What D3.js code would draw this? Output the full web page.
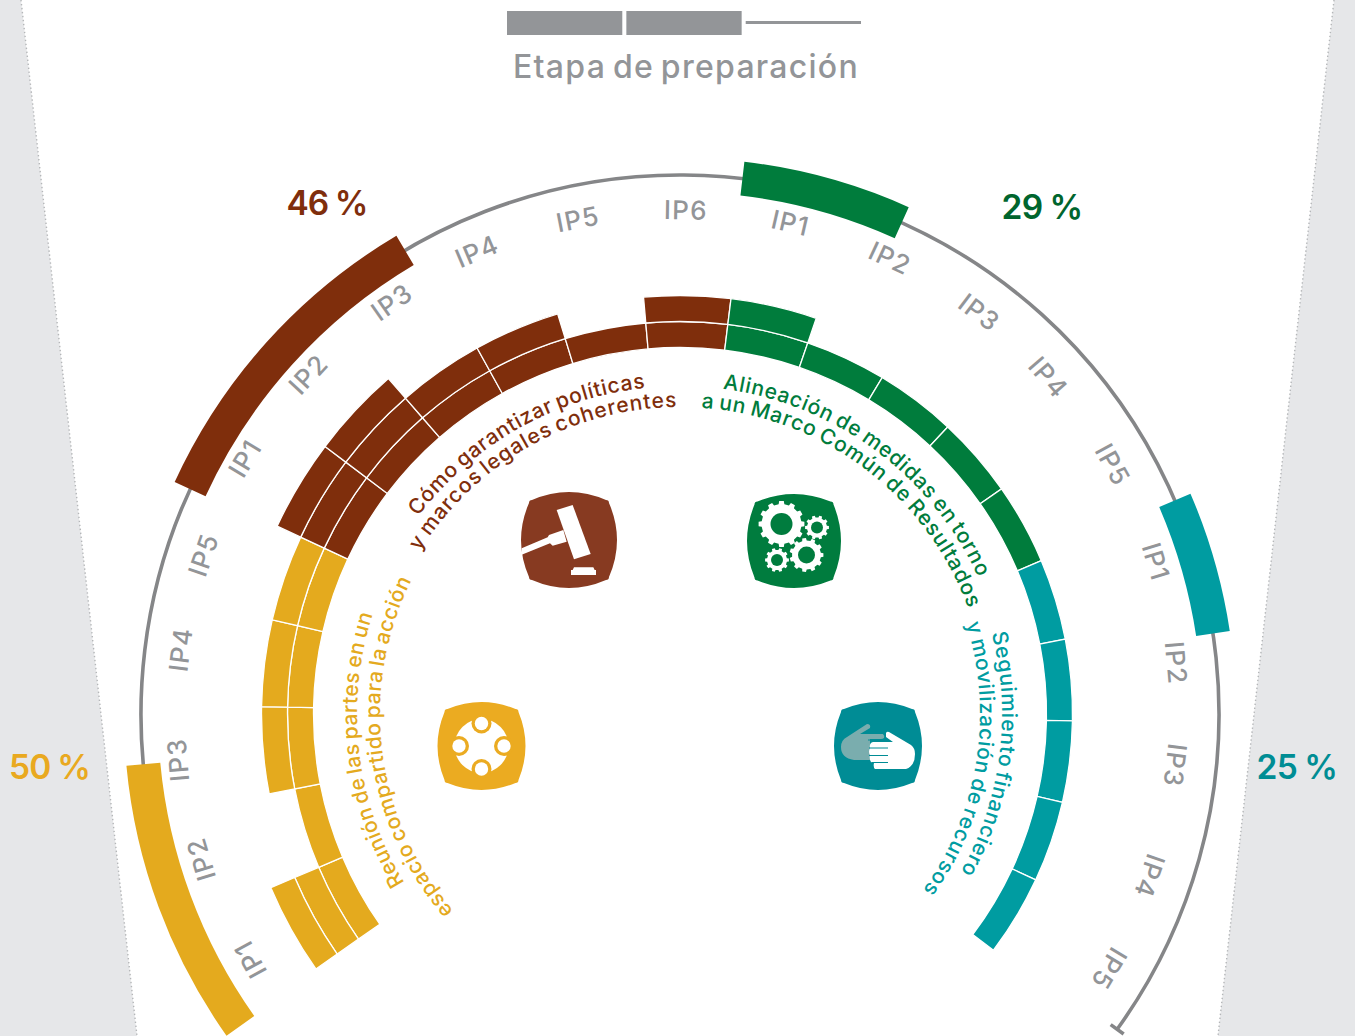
<!DOCTYPE html>
<html lang="es">
<head>
<meta charset="utf-8">
<script src="https://cdn.jsdelivr.net/npm/d3@7"></script>
<style>
html,body{margin:0;padding:0;background:#fff;overflow:hidden}
svg{display:block}
text{font-family:Inter,"Noto Sans",sans-serif}
</style>
</head>
<body>
<svg id="chart" width="1355" height="1036"></svg>
<script>
// ---- data ----
const objectives = ["espacio","coherencia","alineacion","seguimiento"];
const objectiveColors = ["#e4aa1e","#7f2e0c","#007c3c","#009ca1"];
const iconColors = ["#ebab21","#873a21","#007c3e","#008c95"];
const pctColors = ["#e9a920","#7f2e0c","#00652e","#008d94"];
const pctLabels = ["50 %","46 %","29 %","25 %"];
// number of preparation-stage levels reached in each IP (cells stacked outward)
const levelsEspacio = [3,1,2,2,2];
const levelsCoherencia = [3,3,2,2,1,2];
const levelsAlineacion = [2,1,1,1,1];
const levelsSeguimiento = [1,1,1,1,1];
const levelsByObjective = [levelsEspacio,levelsCoherencia,levelsAlineacion,levelsSeguimiento];
// length of outer progress band, in IP units
const progressUnits = [2.5,2.89,1.47,1.23];
const captionTexts = [
  ["Reunión de las partes en un","espacio compartido para la acción"],
  ["Cómo garantizar políticas","y marcos legales coherentes"],
  ["Alineación de medidas en torno","a un Marco Común de Resultados"],
  ["Seguimiento financiero","y movilización de recursos"]
];
const headerLabel = "Etapa de preparación";
const stageSegments = ["bar","bar","line"];

// ---- layout ----
const W=1355,H=1036,cx=680,cy=714;
const totalUnits=d3.sum(levelsByObjective,d=>d.length);
const deg=d3.scaleLinear().domain([0,totalUnits]).range([-125,127]);
const rad=u=>deg(u)*Math.PI/180;
const ring=d3.scaleLinear().domain([0,3]).range([366.5,444.5]);
const bandInner=522,bandOuter=556,lineR=539,labelR=504,bandShift=-0.35*Math.PI/180,lineEndShift=-1.2*Math.PI/180;
const grey="#939598",lineGrey="#858688";
const captionLayout=[
  [{r:323,a0:-121.5,a1:-72},{r:300,a0:-131,a1:-63.5}],
  [{r:328,a0:-53,a1:-6},{r:307,a0:-58,a1:-0.5}],
  [{r:328,a0:7.5,a1:65.5},{r:307,a0:4,a1:70}],
  [{r:322,a0:75.5,a1:119.5},{r:300,a0:72.5,a1:126}]
];
const labelNudges=[
  [[11,1],[3,-2],[0,2],[1,-3],[0,5]],
  [[-3,4],[-3,4],[1,1],[-6,1],[-6,0],[-3,0]],
  [[-3,0],[-3,1],[-4,1],[-12,-6],[-8,-5]],
  [[-6,-5],[-6,-7],[-5,-10],[-7,-2],[-3,-5]]
];
const pctLayout=[[49.5,779],[327,215],[1042,219],[1297,779]];
const iconLayout=[[481.5,746,44,37],[569,540,48,40],[794,541,47,39.5],[878,746,44,37]];

function fit(node,target,n){
  const l=node.getComputedTextLength();
  node.setAttribute("letter-spacing",((target-l)/n).toFixed(3));
}

const svg=d3.select("#chart");
// side panels
const panels=[[[0,0],[21,0],[137,1036],[0,1036]],[[1355,0],[1334,0],[1218,1036],[1355,1036]]];
svg.selectAll("polygon.panel").data(panels).join("polygon").attr("class","panel")
  .attr("points",d=>d.join(" ")).attr("fill","#e6e7e9");
svg.selectAll("line.edge").data(panels).join("line").attr("class","edge")
  .attr("x1",d=>d[1][0]).attr("y1",d=>d[1][1]).attr("x2",d=>d[2][0]).attr("y2",d=>d[2][1])
  .attr("stroke","#b4b6b8").attr("stroke-width",1.4).attr("stroke-dasharray","1.4 2.6");

// header key
const keyX=d3.scaleBand().domain(d3.range(stageSegments.length)).range([507,861]).paddingInner(0.034).paddingOuter(0);
const key=svg.append("g");
stageSegments.forEach((s,i)=>{
  if(s==="bar") key.append("rect").attr("x",keyX(i)).attr("y",11).attr("width",keyX.bandwidth()).attr("height",24).attr("fill",grey);
  else key.append("line").attr("x1",keyX(i)).attr("x2",keyX(i)+keyX.bandwidth()).attr("y1",22.5).attr("y2",22.5).attr("stroke",grey).attr("stroke-width",3);
});
const headerText=svg.append("text").attr("x",686).attr("y",78).attr("text-anchor","middle")
  .attr("fill",grey).attr("font-size",32).attr("font-weight",500).attr("word-spacing",-3).text(headerLabel);
fit(headerText.node(),346,headerLabel.length);

const g=svg.append("g").attr("transform",`translate(${cx},${cy})`);
// outer grey arc and end tick
const endA=rad(totalUnits)+lineEndShift;
const arcPath=d3.path();
arcPath.arc(0,0,lineR,rad(0)-Math.PI/2,endA-Math.PI/2,false);
g.append("path").attr("d",arcPath.toString()).attr("fill","none").attr("stroke",lineGrey).attr("stroke-width",3.6);
g.append("line")
  .attr("x1",Math.sin(endA)*(lineR-8)).attr("y1",-Math.cos(endA)*(lineR-8))
  .attr("x2",Math.sin(endA)*(lineR+8)).attr("y2",-Math.cos(endA)*(lineR+8))
  .attr("stroke",lineGrey).attr("stroke-width",3.6);

const arc=d3.arc();
let offset=0;
objectives.forEach((obj,oi)=>{
  const levels=levelsByObjective[oi];
  // outer progress band
  g.append("path").attr("d",arc({innerRadius:bandInner,outerRadius:bandOuter,startAngle:rad(offset)+bandShift,endAngle:rad(offset+progressUnits[oi])+bandShift}))
    .attr("fill",objectiveColors[oi]);
  levels.forEach((lv,ip)=>{
    const u=offset+ip;
    // IP tick label
    const mid=deg(u+0.5), mr=mid*Math.PI/180, nd=labelNudges[oi][ip];
    g.append("text").attr("transform",`translate(${Math.sin(mr)*labelR+nd[0]},${-Math.cos(mr)*labelR+nd[1]}) rotate(${mid})`)
      .attr("text-anchor","middle").attr("dy","0.36em").attr("font-size",26).attr("font-weight",500).attr("letter-spacing",1.2)
      .attr("fill",grey).text("IP"+(ip+1));
    // stacked cells
    d3.range(lv).forEach(k=>{
      g.append("path").attr("d",arc({innerRadius:ring(k),outerRadius:ring(k+1),startAngle:rad(u),endAngle:rad(u+1)}))
        .attr("fill",objectiveColors[oi]).attr("stroke","#fff").attr("stroke-width",1.3);
    });
  });
  // captions on curves
  captionTexts[oi].forEach((t,li)=>{
    const L=captionLayout[oi][li];
    const id=`cap${oi}${li}`;
    const p=d3.path();
    p.arc(0,0,L.r,(L.a0-90)*Math.PI/180,(L.a1+25-90)*Math.PI/180,false);
    g.append("path").attr("id",id).attr("d",p.toString()).attr("fill","none");
    const tx=g.append("text").attr("font-size",21).attr("font-weight",500).attr("word-spacing",-2).attr("fill",objectiveColors[oi]);
    tx.append("textPath").attr("href","#"+id).text(t);
    fit(tx.node(),L.r*(L.a1-L.a0)*Math.PI/180,t.length);
  });
  // percentage
  const pct=svg.append("text").attr("x",pctLayout[oi][0]).attr("y",pctLayout[oi][1]).attr("text-anchor","middle")
    .attr("font-size",33.5).attr("font-weight",600).attr("word-spacing",-1).attr("fill",pctColors[oi]).text(pctLabels[oi]);
  fit(pct.node(),81,pctLabels[oi].length);
  offset+=levels.length;
});

// ---- icons ----
function badge(i){
  const [x,y,h,c]=iconLayout[i];
  const b=2*h-c, r=3;
  const d=`M${-c+r},${-c} Q0,${-b} ${c-r},${-c} Q${c},${-c} ${c},${-c+r} Q${b},0 ${c},${c-r} Q${c},${c} ${c-r},${c} Q0,${b} ${-c+r},${c} Q${-c},${c} ${-c},${c-r} Q${-b},0 ${-c},${-c+r} Q${-c},${-c} ${-c+r},${-c}Z`;
  const n=svg.append("g").attr("transform",`translate(${x},${y})`);
  n.append("path").attr("d",d).attr("fill",iconColors[i]);
  return n;
}
// espacio icon
(function(){
  const n=badge(0);
  n.append("circle").attr("r",27).attr("fill","#fff");
  [[0,-22.5],[22.5,0],[0,23],[-22.5,0]].forEach(([a,b])=>{
    n.append("circle").attr("cx",a).attr("cy",b).attr("r",10).attr("fill",iconColors[0]);
    n.append("circle").attr("cx",a).attr("cy",b).attr("r",6.7).attr("fill","#fff");
  });
})();
// gavel icon
(function(){
  const n=badge(1);
  const m=n.append("g").attr("transform","scale(0.3333) translate(-207,-180)");
  const polys=[
    [[170,90],[218,75],[272,222],[222,238]],
    [[65,205],[143,172],[147,165],[190,150],[200,185],[158,197],[150,190],[65,224]],
    [[222,262],[280,262],[284,270],[288,270],[288,285],[213,285],[213,270],[218,270]]
  ];
  m.selectAll("polygon").data(polys).join("polygon").attr("points",d=>d.join(" ")).attr("fill","#fff");
})();
// gears icon
(function(){
  const n=badge(2);
  function gear(x,y,ro,ri,hole,t){
    const pts=[];
    for(let i=0;i<t;i++){
      const a=i/t*2*Math.PI, w=Math.PI/t*0.55;
      [[a-w,ri],[a-w*0.7,ro],[a+w*0.7,ro],[a+w,ri]].forEach(([q,r])=>pts.push([x+Math.cos(q)*r,y+Math.sin(q)*r]));
    }
    n.append("polygon").attr("points",pts.join(" ")).attr("fill","#fff");
    n.append("circle").attr("cx",x).attr("cy",y).attr("r",hole).attr("fill",iconColors[2]);
  }
  gear(-12.5,-17,23,20,11,12);
  gear(23,-13.5,12,10,6,10);
  gear(12.5,14,17,14.5,8.5,11);
  gear(-17,19,12,10,6,10);
})();
// hands icon
(function(){
  const n=badge(3);
  n.append("path").attr("d","M-31,-9 L-11,-22 Q-7,-22 -8,-18 L-18,-12 L5,-12 Q7,-10 6,-8 Q5,-7 3,-7 L-8,-7 L-8,14 L-24,14 Q-37,12 -37,1 Q-37,-6 -31,-9Z").attr("fill","#7aadae");
  n.append("path").attr("d","M8,-13 Q9,-15 11,-14 L33,-1 Q37,2 37,8 Q37,20 28,23 L-3,23 Q-5,21 -4,17 L-7,16 Q-9,13 -8,9 Q-10,6 -8,2 Q-9,-3 -5,-4 L15,-4 L8,-9 Z").attr("fill","#fff");
  [[-10,10,-6],[-9,10,2],[-9,10,9.5],[-6,10,16.5]].forEach(([a,b,y])=>{
    n.append("line").attr("x1",a).attr("x2",b).attr("y1",y).attr("y2",y).attr("stroke",iconColors[3]).attr("stroke-width",1);
  });
})();
</script>
</body>
</html>
